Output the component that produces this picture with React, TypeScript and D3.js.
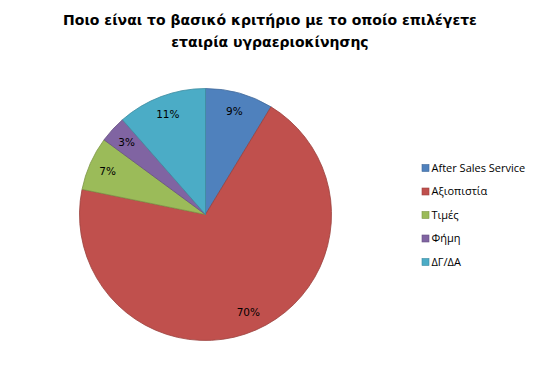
import React from "react";
import * as d3 from "d3";

const categories = ["After Sales Service", "Αξιοπιστία", "Τιμές", "Φήμη", "ΔΓ/ΔΑ"];
const values = [8.7, 69.5, 6.9, 3.45, 11.45];
const colors = ["#4F81BD", "#C0504D", "#9BBB59", "#8064A2", "#4BACC6"];
const titleLines = ["Ποιο είναι το βασικό κριτήριο με το οποίο επιλέγετε", "εταιρία υγραεριοκίνησης"];

const width = 542;
const height = 367;

const App = () => {
  const cx = 205.5;
  const cy = 214.5;
  const radius = 126;

  const pie = d3
    .pie<number>()
    .sort(null)
    .value((d) => d);
  const arcs = pie(values);
  const arc = d3.arc<d3.PieArcDatum<number>>().innerRadius(0).outerRadius(radius);
  const labelArc = d3
    .arc<d3.PieArcDatum<number>>()
    .innerRadius(radius * 0.85)
    .outerRadius(radius * 0.85);
  const total = d3.sum(values);

  const legendY = d3
    .scalePoint<string>()
    .domain(categories)
    .range([168, 262]);

  return (
    <svg
      width={width}
      height={height}
      style={{ position: "absolute", left: 0, top: 0 }}
    >
      <rect width={width} height={height} fill="#fff" />
      {titleLines.map((t, i) => (
        <text
          key={i}
          x={270}
          y={25 + i * 22}
          textAnchor="middle"
          fontFamily="DejaVu Sans"
          fontWeight="bold"
          fontSize={14}
          fill="#000"
        >
          {t}
        </text>
      ))}
      <g transform={`translate(${cx},${cy})`}>
        {arcs.map((a, i) => (
          <path
            key={i}
            d={arc(a) || ""}
            fill={colors[i]}
            stroke={d3.color(colors[i])!.darker(0.6).formatHex()}
            strokeWidth={0.8}
          />
        ))}
        {arcs.map((a, i) => {
          const [lx, ly] = labelArc.centroid(a);
          return (
            <text
              key={i}
              x={lx}
              y={ly}
              dy="0.35em"
              textAnchor="middle"
              fontFamily="DejaVu Sans"
              fontSize={10.5}
              fill="#000"
            >
              {Math.round((a.data / total) * 100)}%
            </text>
          );
        })}
      </g>
      {categories.map((c, i) => (
        <g key={c} transform={`translate(422,${legendY(c)})`}>
          <rect
            x={0}
            y={-3.5}
            width={7}
            height={7}
            fill={colors[i]}
            stroke={d3.color(colors[i])!.darker(0.6).formatHex()}
            strokeWidth={0.6}
          />
          <text
            x={9.5}
            y={0}
            dy="0.35em"
            fontFamily="Open Sans"
            fontSize={11}
            fill="#000"
          >
            {c}
          </text>
        </g>
      ))}
    </svg>
  );
};

export default App;
